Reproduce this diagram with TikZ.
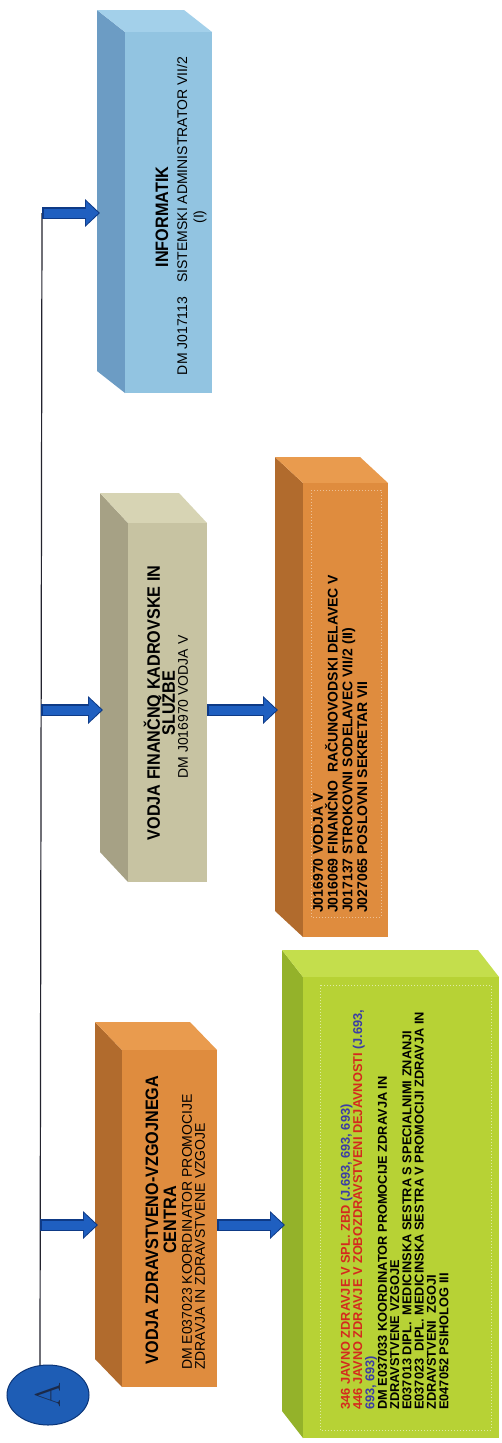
\documentclass[tikz,border=0pt]{standalone}
\usepackage{fontspec}
\usepackage{graphicx}
\newfontfamily\lsans[FakeStretch=0.9]{Liberation Sans}
\newfontfamily\lsansn{Liberation Sans}
\usetikzlibrary{shapes.geometric,arrows.meta}
\definecolor{cbfront}{HTML}{92C4E1}
\definecolor{cbside}{HTML}{6C9CC4}
\definecolor{cbtop}{HTML}{A3D0EA}
\definecolor{cgfront}{HTML}{C7C3A2}
\definecolor{cgside}{HTML}{A6A185}
\definecolor{cgtop}{HTML}{D7D4B4}
\definecolor{cofront}{HTML}{DF8C3E}
\definecolor{coside}{HTML}{B16B2D}
\definecolor{cotop}{HTML}{E99B4E}
\definecolor{clfront}{HTML}{B7D235}
\definecolor{clside}{HTML}{94B22A}
\definecolor{cltop}{HTML}{C4DE4C}
\definecolor{arrblue}{HTML}{1F5FC0}
\definecolor{arredge}{HTML}{0E3A86}
\definecolor{circblue}{HTML}{1E5DB5}
\definecolor{circedge}{HTML}{0B3578}
\definecolor{adark}{HTML}{1B2A4A}
\definecolor{jzred}{HTML}{D42A1E}
\definecolor{jzblue}{HTML}{3B3CA6}
\definecolor{linecol}{HTML}{23232E}

% #1 name, #2 back x, #3 back y, #4 front x1, #5 front y1, #6 front x2, #7 front y2, #8 colour prefix
\newcommand\tdbox[8]{%
 \fill[#8side] (#2,-#3) -- (#4,-#5) -- (#4,-#7) -- (#2,{-(#7-#5+#3)}) -- cycle;
 \fill[#8top] (#2,-#3) -- ({#6-#4+#2},-#3) -- (#6,-#5) -- (#4,-#5) -- cycle;
 \node[frontface, fill=#8front, minimum width={(#6-#4)*1pt}, minimum height={(#7-#5)*1pt}] (#1f) at ({(#4+#6)/2},{-(#5+#7)/2}) {};
 \coordinate (#1l) at (#2,{-(#5+#7)/2});
}
\newcommand\bigarrow[2]{%
 \draw[arrowedge] #1 -- #2;
 \draw[arrowfill] #1 -- #2;
}

\begin{document}
\setlength{\lineskiplimit}{-30pt}
\begin{tikzpicture}[x=1pt,y=1pt,
 frontface/.style={rectangle, inner sep=0pt, outer sep=0pt, draw=none},
 title/.style={rotate=90, inner sep=0pt, align=center, font=\lsans\bfseries\fontsize{18}{15}\selectfont},
 sub/.style={rotate=90, inner sep=0pt, align=center, font=\lsansn\fontsize{14}{15}\selectfont},
 sublist/.style={rotate=90, inner sep=0pt, align=left, anchor=north west, font=\lsansn\fontsize{14}{13}\selectfont},
 list/.style={rotate=90, inner sep=0pt, align=left, anchor=north west, font=\lsansn\bfseries\fontsize{14}{14.7}\selectfont},
 glist/.style={rotate=90, inner sep=0pt, align=left, anchor=north west, font=\lsansn\bfseries\fontsize{12.8}{12.3}\selectfont},
 dotframe/.style={dotted, line width=1pt},
 vline/.style={draw=linecol, line width=1.2pt},
 arrowedge/.style={draw=arredge, line width=12pt, -{Triangle[width=27pt,length=15pt]}, shorten >=-3pt},
 arrowfill/.style={draw=arrblue, line width=9pt, -{Triangle[width=23pt,length=12.5pt]}, shorten >=-1.4pt, shorten <=1.5pt},
 circ/.style={ellipse, minimum width=82pt, minimum height=60pt, inner sep=0pt, fill=circblue, draw=circedge, line width=1pt}
]
\useasboundingbox (0,0) rectangle (501,-1443);
\fill[white] (0,0) rectangle (501,-1443);

% boxes
\tdbox{inf}{97}{10}{125}{32}{212}{393}{cb}
\tdbox{fin}{100}{493}{128}{523}{207}{882}{cg}
\tdbox{zvc}{95}{1022}{122}{1050}{217}{1387}{co}
\tdbox{fkl}{275}{457}{303}{483}{388}{937}{co}
\tdbox{zvl}{282}{950}{303}{977}{499}{1438}{cl}

\draw[dotframe, draw=cofront!55!white] (311,-490) rectangle (381,-917);
\draw[dotframe, draw=clfront!45!white] (320,-985) rectangle (491,-1430);

% circle and trunk line
\coordinate (m1) at (42,-213);
\coordinate (m2) at (41,-710);
\coordinate (m3) at (40,-1225);
\node[circ] (A) at (48,-1395) {\rotatebox{90}{\color{adark}\fontsize{36}{36}\selectfont A}};
\draw[vline] (A.105) -- (m1);

% arrows
\bigarrow{(m1)}{(infl |- m1)}
\bigarrow{(m2)}{(finl |- m2)}
\bigarrow{(m3)}{(zvcl |- m3)}
\bigarrow{(finf.east |- m2)}{(fkll |- m2)}
\bigarrow{(zvcf.east |- m3)}{(zvll |- m3)}

% texts
\node[title] (inft) at (162,-217) {INFORMATIK};
\node[sub] (infs) at (182,-216) {DM J017113\hspace{14pt}SISTEMSKI ADMINISTRATOR VII/2};
\node[sub] (infi) at (200,-217) {(I)};

\node[title] (fint) at (159.5,-703) {VODJA FINANČNO KADROVSKE IN\\SLUŽBE};
\node[sub] (fins) at (183,-707) {DM J016970 VODJA V};

\node[title] (zvct) at (161,-1220) {VODJA ZDRAVSTVENO-VZGOJNEGA\\[3pt]CENTRA};
\node[sublist] (zvcs) at (182,-1370) {DM E037023 KOORDINATOR PROMOCIJE\\ZDRAVJA IN ZDRAVSTVENE VZGOJE};

\node[list] (fklt) at (313,-913) {J016970 VODJA V\\J016069 FINANČNO\ \ RAČUNOVODSKI DELAVEC V\\J017137 STROKOVNI SODELAVEC VII/2 (II)\\J027065 POSLOVNI SEKRETAR VII};

\node[glist] (zvlt) at (340.4,-1410) {{\color{jzred}346 JAVNO ZDRAVJE V SPL. ZBD} {\color{jzblue}(J.693, 693, 693)}\\
{\color{jzred}446 JAVNO ZDRAVJE V ZOBOZDRAVSTVENI DEJAVNOSTI} {\color{jzblue}(J.693,}\\
{\color{jzblue}693, 693)}\\
DM E037033 KOORDINATOR PROMOCIJE ZDRAVJA IN\\
ZDRAVSTVENE VZGOJE\\
E037013 DIPL.\ \ MEDICINSKA SESTRA S SPECIALNIMI ZNANJI\\
E037023\ \ DIPL. MEDICINSKA SESTRA V PROMOCIJI ZDRAVJA IN\\
ZDRAVSTVENI\ \ ZGOJI\\
E047052 PSIHOLOG III};
\end{tikzpicture}
\end{document}
